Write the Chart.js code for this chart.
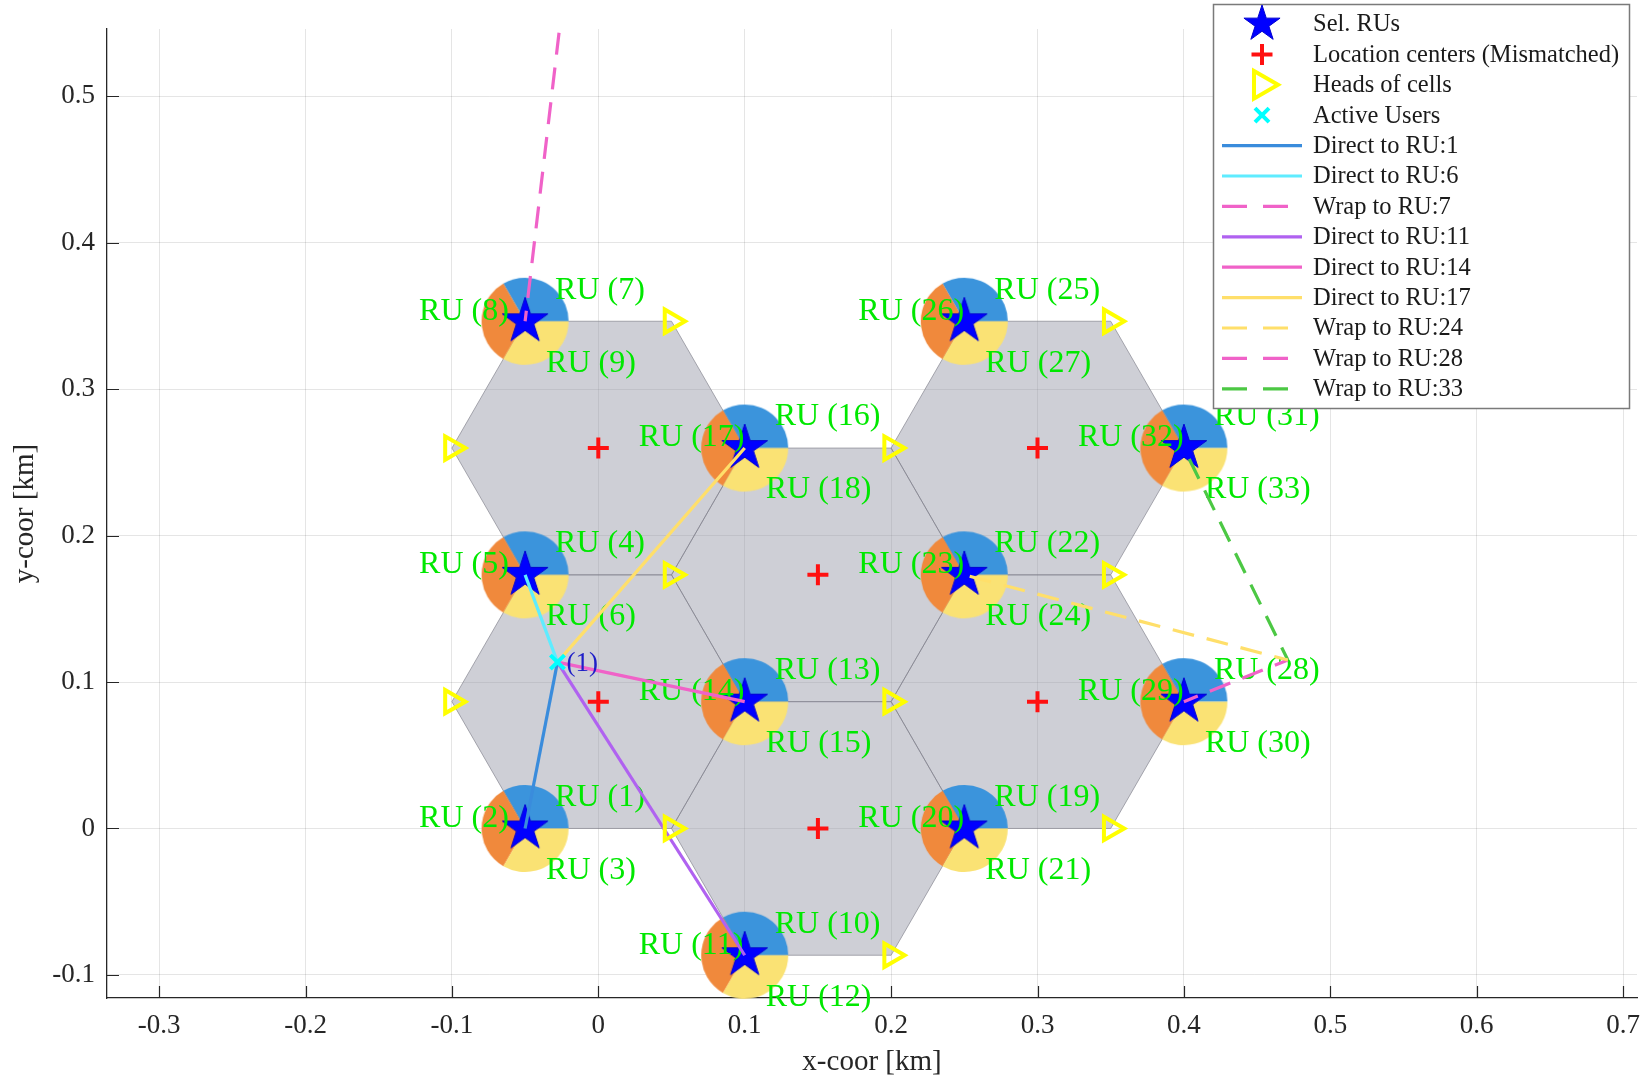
<!DOCTYPE html>
<html>
<head>
<meta charset="utf-8">
<title>RU selection and wrap-around links</title>
<script src="https://cdn.jsdelivr.net/npm/chart.js@4/dist/chart.umd.min.js"></script>
<style>
  html, body { margin: 0; padding: 0; background: #ffffff; }
  #wrap { width: 1640px; height: 1081px; position: relative; }
  canvas { display: block; }
</style>
</head>
<body>
<div id="wrap"><canvas id="chart" width="1640" height="1081"></canvas></div>
<script>
// ---------------- data (km) ----------------
const xTickValues = [-0.3, -0.2, -0.1, 0, 0.1, 0.2, 0.3, 0.4, 0.5, 0.6, 0.7];
const xTickLabels = ['-0.3', '-0.2', '-0.1', '0', '0.1', '0.2', '0.3', '0.4', '0.5', '0.6', '0.7'];
const yTickValues = [-0.1, 0, 0.1, 0.2, 0.3, 0.4, 0.5];
const yTickLabels = ['-0.1', '0', '0.1', '0.2', '0.3', '0.4', '0.5'];

// hexagonal cells: location centers and circumradius
const cellCenterX = [0, 0, 0.15, 0.15, 0.3, 0.3];
const cellCenterY = [0.2598, 0.0866, 0.1732, 0, 0.2598, 0.0866];
const cellRadius = 0.1;

// RU sites (each site hosts three sector RUs)
const siteX = [-0.05, -0.05, -0.05, 0.1, 0.1, 0.1, 0.25, 0.25, 0.25, 0.4, 0.4];
const siteY = [0, 0.1732, 0.3464, -0.0866, 0.0866, 0.2598, 0, 0.1732, 0.3464, 0.0866, 0.2598];
const siteRUs = [[1, 2, 3], [4, 5, 6], [7, 8, 9], [10, 11, 12], [13, 14, 15], [16, 17, 18],
                 [19, 20, 21], [22, 23, 24], [25, 26, 27], [28, 29, 30], [31, 32, 33]];

// heads of cells
const headX = [-0.1, 0.05, 0.2, 0.35, -0.1, 0.05, 0.2, 0.35, 0.05, 0.35, 0.2];
const headY = [0.2598, 0.3464, 0.2598, 0.3464, 0.0866, 0.1732, 0.0866, 0.1732, 0, 0, -0.0866];

// active users
const userX = [-0.0279];
const userY = [0.1136];
const userNames = ['(1)'];

// user-to-RU links (wrap links start at the wrapped user image)
const linkLabels = ['Direct to RU:1', 'Direct to RU:6', 'Wrap to RU:7', 'Direct to RU:11', 'Direct to RU:14',
                    'Direct to RU:17', 'Wrap to RU:24', 'Wrap to RU:28', 'Wrap to RU:33'];
const linkRU = [1, 6, 7, 11, 14, 17, 24, 28, 33];
const linkFromX = [-0.0279, -0.0279, -0.0163, -0.0279, -0.0279, -0.0279, 0.471, 0.471, 0.471];
const linkFromY = [0.1136, 0.1136, 0.633, 0.1136, 0.1136, 0.1136, 0.115, 0.115, 0.115];

// ---------------- styles ----------------
const SERIF = '"Liberation Serif", "DejaVu Serif", "Times New Roman", serif';
const AXIS_COLOR = '#262626';
const X_MIN = -0.3356, X_MAX = 0.7095, Y_MIN = -0.1158, Y_MAX = 0.546;
const pieColors = ['#3b94dc', '#f0893c', '#fae274'];
const linkColors = ['#3a8cdc', '#5fecff', '#f062c8', '#b062f0', '#f062c8', '#ffdf6a', '#ffdf6a', '#f062c8', '#4cc844'];
const linkDash = [false, false, true, false, false, false, true, true, true];
const DASH = [22, 13];
const ruLabelOffsets = [[30, -31], [-106, -10], [21, 42]];
const RU_GREEN = '#00e800';

const D2R = Math.PI / 180;

function starCanvas(R) {
  const s = Math.ceil(2 * R + 4);
  const c = document.createElement('canvas');
  c.width = c.height = s;
  const g = c.getContext('2d');
  const cx = s / 2, cy = s / 2;
  g.beginPath();
  for (let i = 0; i < 10; i++) {
    const r = i % 2 ? R * 0.382 : R;
    const a = -Math.PI / 2 + i * Math.PI / 5;
    const px = cx + r * Math.cos(a), py = cy + r * Math.sin(a);
    if (i === 0) g.moveTo(px, py); else g.lineTo(px, py);
  }
  g.closePath();
  g.fillStyle = '#0000ff';
  g.fill();
  g.strokeStyle = '#0000d0';
  g.lineWidth = 1;
  g.stroke();
  return c;
}

function pieCanvas(r) {
  const s = Math.ceil(2 * r + 2);
  const c = document.createElement('canvas');
  c.width = c.height = s;
  const g = c.getContext('2d');
  const cx = s / 2, cy = s / 2;
  const bounds = [[0, 120], [120, 240], [240, 360]];
  bounds.forEach(([a0, a1], k) => {
    g.beginPath();
    g.moveTo(cx, cy);
    g.arc(cx, cy, r, -a0 * D2R, -a1 * D2R, true);
    g.closePath();
    g.fillStyle = pieColors[k];
    g.fill();
  });
  return c;
}

const starImg = starCanvas(24);
const starLegendImg = starCanvas(19);
const pieImg = pieCanvas(43.5);

function hexVertices(cx, cy) {
  return [0, 60, 120, 180, 240, 300, 0].map(a => ({
    x: cx + cellRadius * Math.cos(a * D2R),
    y: cy + cellRadius * Math.sin(a * D2R)
  }));
}
const siteOfRU = ru => Math.floor((ru - 1) / 3);
const pts = (xs, ys) => xs.map((x, i) => ({ x, y: ys[i] }));

// ---------------- datasets ----------------
const datasets = [];
cellCenterX.forEach((cx, i) => {
  datasets.push({
    label: 'cell ' + (i + 1),
    data: hexVertices(cx, cellCenterY[i]),
    showLine: true,
    fill: 'shape',
    backgroundColor: 'rgba(146,148,164,0.45)',
    borderColor: 'rgba(128,128,138,0.65)',
    borderWidth: 1,
    pointRadius: 0,
    tension: 0,
    order: 100
  });
});
datasets.push({
  label: 'RU sectors',
  data: pts(siteX, siteY),
  pointStyle: pieImg,
  pointRadius: 44,
  clip: false,
  order: 90
});
const STAR_INDEX = datasets.length;
datasets.push({
  label: 'Sel. RUs',
  data: pts(siteX, siteY),
  pointStyle: starImg,
  pointRadius: 24,
  clip: false,
  order: 80
});
linkLabels.forEach((lab, i) => {
  const s = siteOfRU(linkRU[i]);
  datasets.push({
    label: lab,
    data: [{ x: linkFromX[i], y: linkFromY[i] }, { x: siteX[s], y: siteY[s] }],
    showLine: true,
    borderColor: linkColors[i],
    borderWidth: 3.2,
    borderDash: linkDash[i] ? DASH : [],
    borderDashOffset: linkDash[i] ? 8 : 0,
    pointRadius: 0,
    fill: false,
    order: 70
  });
});
datasets.push({
  label: 'Location centers (Mismatched)',
  data: pts(cellCenterX, cellCenterY),
  pointStyle: 'cross',
  pointRadius: 10.5,
  borderColor: '#ff1010',
  borderWidth: 4,
  clip: false,
  order: 60
});
datasets.push({
  label: 'Heads of cells',
  data: pts(headX, headY),
  pointStyle: 'triangle',
  rotation: 90,
  pointRadius: 13.5,
  borderColor: '#ffff00',
  backgroundColor: 'rgba(0,0,0,0)',
  borderWidth: 4,
  clip: false,
  order: 50
});
datasets.push({
  label: 'Active Users',
  data: pts(userX, userY),
  pointStyle: 'crossRot',
  pointRadius: 10,
  borderColor: '#00ffff',
  borderWidth: 4,
  clip: false,
  order: 40
});

// ---------------- plugins ----------------
const innerTicks = {
  id: 'innerTicks',
  beforeDatasetsDraw(chart) {
    const { ctx, chartArea: a, scales: { x, y } } = chart;
    ctx.save();
    ctx.strokeStyle = AXIS_COLOR;
    ctx.lineWidth = 1.2;
    ctx.beginPath();
    x.ticks.forEach(t => {
      const px = Math.round(x.getPixelForValue(t.value)) + 0.5;
      ctx.moveTo(px, a.bottom);
      ctx.lineTo(px, a.bottom - 12);
    });
    y.ticks.forEach(t => {
      const py = Math.round(y.getPixelForValue(t.value)) + 0.5;
      ctx.moveTo(a.left, py);
      ctx.lineTo(a.left + 12, py);
    });
    ctx.stroke();
    ctx.restore();
  }
};

const ruLabels = {
  id: 'ruLabels',
  afterDatasetDraw(chart, args) {
    if (args.index !== STAR_INDEX) return;
    const { ctx, scales: { x, y } } = chart;
    ctx.save();
    ctx.font = '32px ' + SERIF;
    ctx.fillStyle = RU_GREEN;
    ctx.textAlign = 'left';
    ctx.textBaseline = 'middle';
    siteRUs.forEach((rus, s) => {
      const px = x.getPixelForValue(siteX[s]);
      const py = y.getPixelForValue(siteY[s]);
      rus.forEach((ru, k) => {
        ctx.fillText('RU (' + ru + ')', px + ruLabelOffsets[k][0], py + ruLabelOffsets[k][1]);
      });
    });
    ctx.restore();
  },
  afterDatasetsDraw(chart) {
    const { ctx, scales: { x, y } } = chart;
    ctx.save();
    ctx.font = '27px ' + SERIF;
    ctx.fillStyle = '#1e1ec8';
    ctx.textAlign = 'left';
    ctx.textBaseline = 'middle';
    userNames.forEach((n, i) => {
      ctx.fillText(n, x.getPixelForValue(userX[i]) + 9, y.getPixelForValue(userY[i]) + 2);
    });
    ctx.restore();
  }
};

const boxLegend = {
  id: 'boxLegend',
  afterDraw(chart) {
    const { ctx } = chart;
    const L = { x: 1213, y: 4, w: 416, h: 404, row0: 24, rowH: 30.4, sym: 1262, l0: 1222, l1: 1302, text: 1313 };
    const items = [
      { label: 'Sel. RUs', kind: 'star' },
      { label: 'Location centers (Mismatched)', kind: 'cross' },
      { label: 'Heads of cells', kind: 'tri' },
      { label: 'Active Users', kind: 'x' }
    ].concat(linkLabels.map((lab, i) => ({ label: lab, kind: 'line', color: linkColors[i], dash: linkDash[i] })));
    ctx.save();
    ctx.fillStyle = '#ffffff';
    ctx.fillRect(L.x, L.y, L.w, L.h);
    ctx.strokeStyle = '#7a7a7a';
    ctx.lineWidth = 1.5;
    ctx.strokeRect(L.x + 0.5, L.y + 0.5, L.w, L.h);
    items.forEach((it, i) => {
      const cy = L.row0 + i * L.rowH;
      ctx.save();
      if (it.kind === 'star') {
        ctx.drawImage(starLegendImg, L.sym - starLegendImg.width / 2, cy - starLegendImg.height / 2);
      } else if (it.kind === 'cross') {
        ctx.strokeStyle = '#ff1010'; ctx.lineWidth = 4;
        ctx.beginPath();
        ctx.moveTo(L.sym - 10.5, cy); ctx.lineTo(L.sym + 10.5, cy);
        ctx.moveTo(L.sym, cy - 10.5); ctx.lineTo(L.sym, cy + 10.5);
        ctx.stroke();
      } else if (it.kind === 'tri') {
        const r = 16;
        ctx.strokeStyle = '#ffff00'; ctx.lineWidth = 4;
        ctx.beginPath();
        ctx.moveTo(L.sym + r, cy);
        ctx.lineTo(L.sym - r / 2, cy - r * 0.866);
        ctx.lineTo(L.sym - r / 2, cy + r * 0.866);
        ctx.closePath();
        ctx.stroke();
      } else if (it.kind === 'x') {
        const d = 7;
        ctx.strokeStyle = '#00ffff'; ctx.lineWidth = 4;
        ctx.beginPath();
        ctx.moveTo(L.sym - d, cy - d); ctx.lineTo(L.sym + d, cy + d);
        ctx.moveTo(L.sym - d, cy + d); ctx.lineTo(L.sym + d, cy - d);
        ctx.stroke();
      } else {
        ctx.strokeStyle = it.color; ctx.lineWidth = 3.2;
        ctx.setLineDash(it.dash ? [25, 16] : []);
        ctx.beginPath();
        ctx.moveTo(L.l0, cy);
        ctx.lineTo(it.dash ? 1290 : L.l1, cy);
        ctx.stroke();
      }
      ctx.restore();
      ctx.font = '24.5px ' + SERIF;
      ctx.fillStyle = '#1a1a1a';
      ctx.textAlign = 'left';
      ctx.textBaseline = 'middle';
      ctx.fillText(it.label, L.text, cy + 1);
    });
    ctx.restore();
  }
};

// ---------------- chart ----------------
new Chart(document.getElementById('chart'), {
  type: 'scatter',
  data: { datasets },
  options: {
    responsive: false,
    animation: false,
    devicePixelRatio: 1,
    layout: { autoPadding: false, padding: { top: 29, right: 3, left: 0, bottom: 0 } },
    plugins: { legend: { display: false }, tooltip: { enabled: false } },
    events: [],
    scales: {
      x: {
        type: 'linear',
        min: X_MIN,
        max: X_MAX,
        afterBuildTicks: s => { s.ticks = xTickValues.map(v => ({ value: v })); },
        afterFit: s => { s.height = 83; s.paddingLeft = 0; s.paddingRight = 0; },
        ticks: {
          callback: (v, i) => xTickLabels[i],
          font: { family: SERIF, size: 27 },
          color: AXIS_COLOR,
          padding: 12,
          maxRotation: 0,
          autoSkip: false
        },
        grid: { color: 'rgba(0,0,0,0.1)', drawTicks: false, lineWidth: 1 },
        border: { display: true, color: AXIS_COLOR, width: 1.3 },
        title: { display: true, text: 'x-coor [km]', font: { family: SERIF, size: 29 }, color: AXIS_COLOR, padding: { top: 0, bottom: 1 } }
      },
      y: {
        type: 'linear',
        min: Y_MIN,
        max: Y_MAX,
        afterBuildTicks: s => { s.ticks = yTickValues.map(v => ({ value: v })); },
        afterFit: s => { s.width = 107; s.paddingTop = 0; s.paddingBottom = 0; },
        ticks: {
          callback: (v, i) => yTickLabels[i],
          font: { family: SERIF, size: 27 },
          color: AXIS_COLOR,
          padding: 12,
          autoSkip: false
        },
        grid: { color: 'rgba(0,0,0,0.1)', drawTicks: false, lineWidth: 1 },
        border: { display: true, color: AXIS_COLOR, width: 1.3 },
        title: { display: true, text: 'y-coor [km]', font: { family: SERIF, size: 29 }, color: AXIS_COLOR, padding: { top: 8, bottom: 0 } }
      }
    }
  },
  plugins: [innerTicks, ruLabels, boxLegend]
});
</script>
</body>
</html>
